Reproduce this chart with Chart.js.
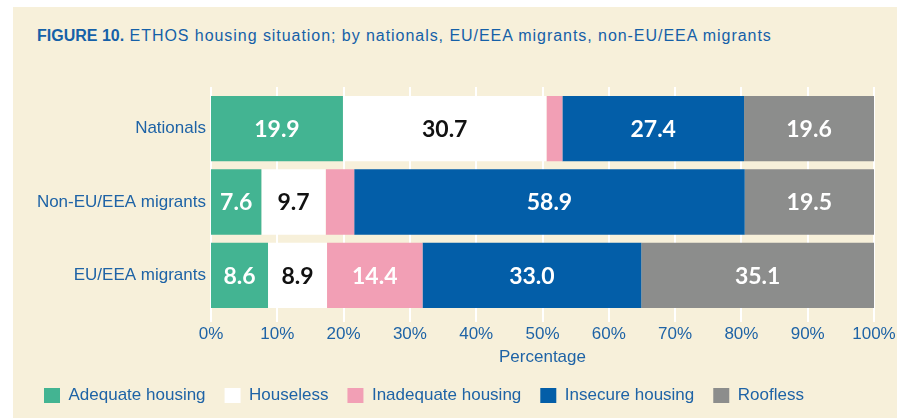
<!DOCTYPE html>
<html lang="en">
<head>
  <meta charset="UTF-8" />
  <title>ETHOS housing situation</title>
  <script src="https://cdn.jsdelivr.net/npm/chart.js"></script>
  <style>
    body {
      margin: 0;
      padding: 0;
      background: white;
      font-family: "Liberation Sans", Arial, sans-serif;
    }
    .panel {
      position: absolute;
      left: 13px;
      top: 7px;
      right: 0;
      bottom: 0;
      background: #f7f0da;
    }
    .title {
      position: absolute;
      left: 37px;
      top: 27px;
      font-size: 16px;
      color: #1560a8;
      white-space: nowrap;
      letter-spacing: 0.95px;
    }
    .title b {
      font-weight: bold;
      letter-spacing: 0;
    }
    .wrap {
      position: absolute;
      left: 0;
      top: 0;
      width: 897px;
      height: 418px;
    }
  </style>
</head>
<body>

<div class="panel"></div>
<div class="title"><b>FIGURE 10.</b> ETHOS housing situation; by nationals, EU/EEA migrants, non-EU/EEA migrants</div>
<div class="wrap"><canvas id="chart"></canvas></div>

<script>
const groups = ["Nationals", "Non-EU/EEA migrants", "EU/EEA migrants"];

const adequate   = [19.9, 7.6, 8.6];
const houseless  = [30.7, 9.7, 8.9];
const inadequate = [2.4, 4.3, 14.4];
const insecure   = [27.4, 58.9, 33.0];
const roofless   = [19.6, 19.5, 35.1];

const seriesNames = ["Adequate housing", "Houseless", "Inadequate housing", "Insecure housing", "Roofless"];
const seriesColors = ["#43b492", "#ffffff", "#f29fb5", "#035ea8", "#8c8d8c"];
const labelColors = ["#ffffff", "#111111", "#ffffff", "#ffffff", "#ffffff"];

const xTicks = [0, 10, 20, 30, 40, 50, 60, 70, 80, 90, 100];

const textBlue = "#1e63a6";

// white vertical grid lines, a little longer than the plot area
const gridPlugin = {
  id: "grid",
  beforeDatasetsDraw(chart) {
    const ctx = chart.ctx;
    const xs = chart.scales.x;
    const area = chart.chartArea;
    ctx.save();
    ctx.strokeStyle = "#ffffff";
    ctx.lineWidth = 2;
    xTicks.forEach(v => {
      const px = Math.round(xs.getPixelForValue(v));
      ctx.beginPath();
      ctx.moveTo(px, area.top - 5);
      ctx.lineTo(px, area.bottom + 10);
      ctx.stroke();
    });
    ctx.restore();
  }
};

// values written inside the segments
const valuePlugin = {
  id: "values",
  afterDatasetsDraw(chart) {
    const ctx = chart.ctx;
    ctx.save();
    ctx.font = "bold 23px Lato";
    ctx.textAlign = "center";
    ctx.textBaseline = "middle";
    chart.data.datasets.forEach((ds, i) => {
      const meta = chart.getDatasetMeta(i);
      meta.data.forEach((bar, j) => {
        const v = ds.data[j];
        if (v < 5) return;
        ctx.fillStyle = labelColors[i];
        ctx.fillText(v.toFixed(1), (bar.x + bar.base) / 2, bar.y + 1);
      });
    });
    ctx.restore();
  }
};

const allData = [adequate, houseless, inadequate, insecure, roofless];

new Chart(document.getElementById("chart"), {
  type: "bar",
  data: {
    labels: groups,
    datasets: allData.map((d, i) => ({
      label: seriesNames[i],
      data: d,
      backgroundColor: seriesColors[i],
      borderWidth: 0,
      categoryPercentage: 1,
      barPercentage: 0.89
    }))
  },
  options: {
    indexAxis: "y",
    responsive: true,
    maintainAspectRatio: false,
    animation: false,
    layout: { padding: { top: 92, left: 25, right: 23, bottom: 4 } },
    plugins: {
      tooltip: { enabled: false },
      legend: {
        position: "bottom",
        align: "start",
        labels: {
          boxWidth: 16,
          boxHeight: 15,
          padding: 19,
          color: textBlue,
          font: { family: "Liberation Sans", size: 17 }
        }
      }
    },
    scales: {
      x: {
        stacked: true,
        min: 0,
        max: 100,
        grid: { display: false, drawTicks: false },
        border: { display: false },
        ticks: {
          stepSize: 10,
          padding: 12,
          color: textBlue,
          font: { family: "Liberation Sans", size: 17 },
          callback: v => v + "%"
        },
        title: {
          display: true,
          text: "Percentage",
          color: textBlue,
          font: { family: "Liberation Sans", size: 17 },
          padding: { top: 1, bottom: 0 }
        },
        afterFit(scale) {
          scale.height = 56;
          scale.paddingLeft = 0;
          scale.paddingRight = 0;
        }
      },
      y: {
        stacked: true,
        grid: { display: false, drawTicks: false },
        border: { display: false },
        ticks: {
          padding: 5,
          color: textBlue,
          font: { family: "Liberation Sans", size: 17 }
        },
        afterFit(scale) { scale.width = 186; }
      }
    }
  },
  plugins: [gridPlugin, valuePlugin]
});
</script>

</body>
</html>
